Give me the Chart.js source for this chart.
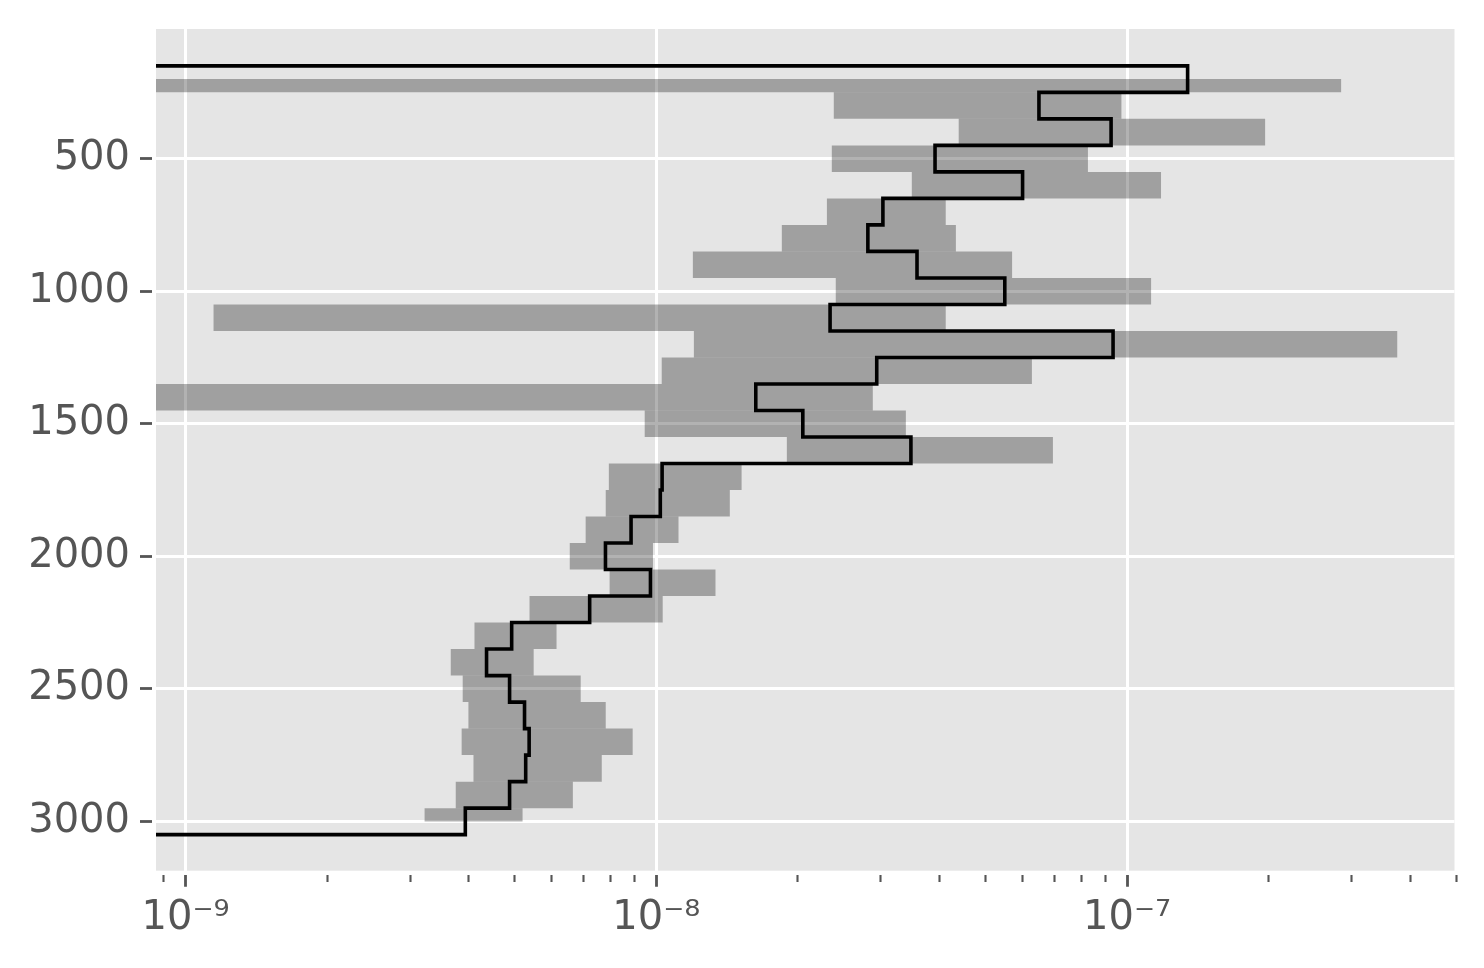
<!DOCTYPE html>
<html>
<head>
<meta charset="utf-8">
<script src="https://cdn.jsdelivr.net/npm/chart.js@4/dist/chart.umd.min.js"></script>
<style>
  html, body { margin: 0; padding: 0; background: #ffffff; }
  #wrap { width: 1484px; height: 968px; }
</style>
</head>
<body>
<div id="wrap"><canvas id="c" width="1484" height="968"></canvas></div>
<script>
// ---- data ----
// step outline (black): bin edges (depth) and value per bin
const depthEdges = [150, 250, 350, 450, 550, 650, 750, 850, 950, 1050, 1150, 1250, 1350, 1450, 1550,
                    1650, 1750, 1850, 1950, 2050, 2150, 2250, 2350, 2450, 2550, 2650, 2750, 2850, 2950, 3050];
const stepValues = [1.345e-7, 6.50e-8, 9.25e-8, 3.91e-8, 6.00e-8, 3.03e-8, 2.815e-8, 3.58e-8, 5.50e-8, 2.34e-8,
                    9.34e-8, 2.94e-8, 1.627e-8, 2.048e-8, 3.475e-8, 1.029e-8, 1.020e-8, 8.84e-9, 7.80e-9, 9.72e-9,
                    7.22e-9, 4.93e-9, 4.36e-9, 4.88e-9, 5.25e-9, 5.37e-9, 5.28e-9, 4.88e-9, 3.93e-9];
const stepFloor = 1e-10; // outline closes at the left, beyond the view

// grey range bars: depth edges and low / high value per bar
const rangeEdges = [200, 250, 350, 450, 550, 650, 750, 850, 950, 1050, 1150, 1250, 1350, 1450, 1550,
                    1650, 1750, 1850, 1950, 2050, 2150, 2250, 2350, 2450, 2550, 2650, 2750, 2850, 2950, 3000];
const rangeLow  = [4e-10, 2.383e-8, 4.39e-8, 2.36e-8, 3.49e-8, 2.304e-8, 1.848e-8, 1.196e-8, 2.406e-8, 1.147e-9,
                   1.202e-8, 1.027e-8, 4e-10, 9.45e-9, 1.894e-8, 7.93e-9, 7.81e-9, 7.08e-9, 6.55e-9, 7.96e-9,
                   5.38e-9, 4.11e-9, 3.66e-9, 3.88e-9, 3.99e-9, 3.86e-9, 4.09e-9, 3.75e-9, 3.22e-9];
const rangeHigh = [2.85e-7, 9.73e-8, 1.965e-7, 8.26e-8, 1.181e-7, 4.12e-8, 4.33e-8, 5.70e-8, 1.125e-7, 4.12e-8,
                   3.75e-7, 6.28e-8, 2.884e-8, 3.39e-8, 6.96e-8, 1.518e-8, 1.433e-8, 1.115e-8, 9.84e-9, 1.336e-8,
                   1.032e-8, 6.14e-9, 5.49e-9, 6.91e-9, 7.81e-9, 8.91e-9, 7.66e-9, 6.65e-9, 5.20e-9];

// axes
const yTickValues = [500, 1000, 1500, 2000, 2500, 3000];
const xMajorTicks = [1e-9, 1e-8, 1e-7];
const xTickLabels = ['10\u207B\u2079', '10\u207B\u2078', '10\u207B\u2077'];
const xMinorTicks = [9e-10, 2e-9, 3e-9, 4e-9, 5e-9, 6e-9, 7e-9, 8e-9, 9e-9,
                     2e-8, 3e-8, 4e-8, 5e-8, 6e-8, 7e-8, 8e-8, 9e-8,
                     2e-7, 3e-7, 4e-7, 5e-7];
const xLimits = [8.656e-10, 4.962e-7];
const yLimits = [11, 3186];

// ---- build datasets ----
const FONT = 'DejaVu Sans';
const stepPoints = [{x: stepFloor, y: depthEdges[0]}];
stepValues.forEach((v, i) => {
  stepPoints.push({x: v, y: depthEdges[i]});
  stepPoints.push({x: v, y: depthEdges[i + 1]});
});
stepPoints.push({x: stepFloor, y: depthEdges[depthEdges.length - 1]});

const bars = rangeLow.map((lo, i) => ({
  y: (rangeEdges[i] + rangeEdges[i + 1]) / 2,
  x: [lo, rangeHigh[i]],
  h: rangeEdges[i + 1] - rangeEdges[i]
}));
const centers = bars.map(b => b.y).sort((a, b) => a - b);
let minSpacing = Infinity;
for (let i = 1; i < centers.length; i++) minSpacing = Math.min(minSpacing, centers[i] - centers[i - 1]);
const groups = {};
bars.forEach(b => { (groups[b.h] = groups[b.h] || []).push({y: b.y, x: b.x}); });

const datasets = [{
  type: 'line',
  data: stepPoints,
  borderColor: '#000000',
  borderWidth: 3.6,
  pointRadius: 0,
  fill: false,
  tension: 0,
  borderJoinStyle: 'miter',
  borderCapStyle: 'butt',
  clip: 0,
  order: 0
}];
Object.keys(groups).forEach(h => {
  datasets.push({
    type: 'bar',
    data: groups[h],
    backgroundColor: 'rgba(0,0,0,0.3)',
    borderWidth: 0,
    grouped: false,
    categoryPercentage: 1,
    barPercentage: Number(h) / minSpacing,
    inflateAmount: 0,
    clip: 0,
    order: 1
  });
});

const panelBg = {
  id: 'panelBg',
  beforeDraw(chart) {
    const {ctx, chartArea: a} = chart;
    ctx.save();
    ctx.fillStyle = '#E5E5E5';
    ctx.fillRect(a.left, a.top, a.right - a.left, a.bottom - a.top);
    ctx.restore();
  }
};

const isMajorCtx = c => !!(c.tick && c.tick.major);
const noScalePadding = s => { s.paddingTop = 0; s.paddingBottom = 0; s.paddingLeft = 0; s.paddingRight = 0; };

new Chart(document.getElementById('c'), {
  type: 'bar',
  data: { datasets },
  plugins: [panelBg],
  options: {
    indexAxis: 'y',
    responsive: false,
    animation: false,
    devicePixelRatio: 1,
    layout: { padding: { top: 29, right: 29.5, left: 0, bottom: 0 } },
    plugins: { legend: { display: false }, tooltip: { enabled: false } },
    scales: {
      x: {
        type: 'logarithmic',
        position: 'bottom',
        min: xLimits[0],
        max: xLimits[1],
        bounds: 'data',
        afterBuildTicks: s => {
          const vals = xMinorTicks.concat(xMajorTicks).sort((a, b) => a - b);
          s.ticks = vals.map(v => ({ value: v, major: xMajorTicks.includes(v) }));
        },
        afterFit: s => { s.height = 97.3; noScalePadding(s); },
        border: { display: false },
        grid: {
          color: c => isMajorCtx(c) ? '#ffffff' : 'rgba(0,0,0,0)',
          lineWidth: 3,
          drawTicks: true,
          tickLength: 16,
          tickColor: '#555555',
          tickWidth: c => isMajorCtx(c) ? 2.8 : 2.1,
          tickBorderDash: c => isMajorCtx(c) ? [0, 4, 12, 100] : [0, 4, 7, 100]
        },
        ticks: {
          autoSkip: false,
          maxRotation: 0,
          minRotation: 0,
          padding: 8,
          color: '#555555',
          font: { family: FONT, size: 40 },
          callback: v => { const k = xMajorTicks.indexOf(v); return k >= 0 ? xTickLabels[k] : ''; }
        }
      },
      y: {
        type: 'linear',
        position: 'left',
        reverse: true,
        min: yLimits[0],
        max: yLimits[1],
        bounds: 'data',
        offset: false,
        afterBuildTicks: s => { s.ticks = yTickValues.map(v => ({ value: v, major: true })); },
        afterFit: s => { s.width = 156; noScalePadding(s); },
        border: { display: false },
        grid: {
          offset: false,
          color: '#ffffff',
          lineWidth: 3,
          drawTicks: true,
          tickLength: 16,
          tickColor: '#555555',
          tickWidth: 2.8,
          tickBorderDash: [12, 100]
        },
        ticks: {
          autoSkip: false,
          padding: 10,
          color: '#555555',
          font: { family: FONT, size: 40 },
          callback: v => String(v)
        }
      }
    }
  }
});
</script>
</body>
</html>
